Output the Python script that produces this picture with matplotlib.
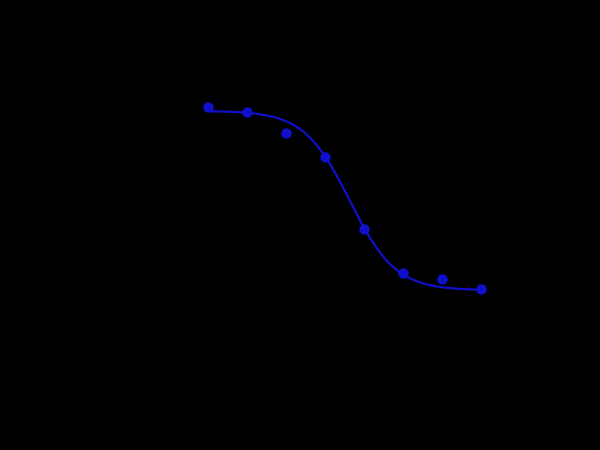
import numpy as np
import matplotlib
matplotlib.use("Agg")
import matplotlib.pyplot as plt

# Data (log10 concentration vs response)
log_conc = [-3, -2, -1, 0, 1, 2, 3, 4]
response = [84.7, 83.3, 77.2, 70.3, 49.5, 36.8, 35.0, 32.2]

# Fitted four-parameter logistic parameters
fit_top = 83.6
fit_bottom = 31.8
fit_logic50 = 0.64
fit_hill = 0.74

xfit = np.linspace(min(log_conc), max(log_conc), 300)
yfit = fit_bottom + (fit_top - fit_bottom) / (1 + 10 ** ((xfit - fit_logic50) * fit_hill))

fig = plt.figure(figsize=(6, 4.5), dpi=100, facecolor="black")
ax = fig.add_axes([169 / 600, 0.11, 350.6 / 600, 0.77])
ax.set_facecolor("black")

blue = "#1010cc"
ax.plot(xfit, yfit, color=blue, lw=1.6)
ax.plot(log_conc, response, "o", color=blue, ms=6.5)

ax.set_xlim(-4, 5)
ax.set_ylim(0, 100)
for s in ax.spines.values():
    s.set_color("black")
ax.tick_params(colors="black")
ax.set_xlabel("log [Concentration]", color="black")
ax.set_ylabel("Response", color="black")

fig.savefig("out.png", facecolor="black")
